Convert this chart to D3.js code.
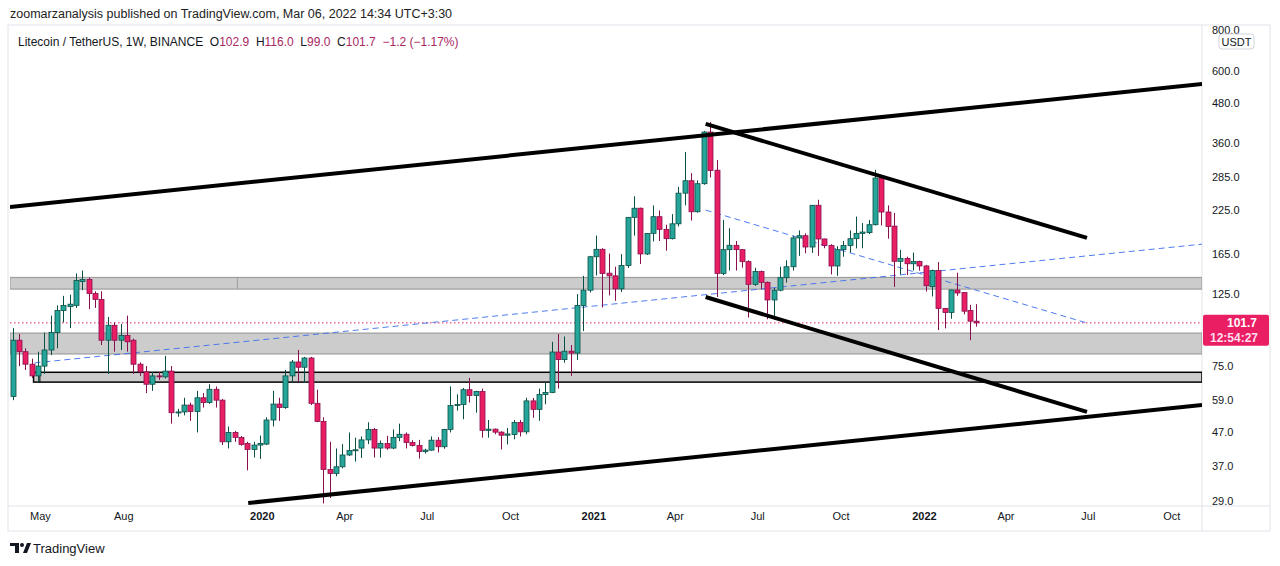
<!DOCTYPE html>
<html><head><meta charset="utf-8">
<script src="https://cdn.jsdelivr.net/npm/d3@7"></script>
<style>body{margin:0;background:#fff;font-family:"Liberation Sans",Roboto,Arial,sans-serif} text{white-space:pre}</style>
</head><body><svg id="c" width="1280" height="566"></svg>
<script>
// ---- data ----
const firstWeek = "2019-04-01";
const opens  = [60.5,90,83,76,70,75,84,95,111,114,115,136,138,125,120,90,100,90,93,90,76,72,66,70,69.5,72.4,54,54.3,57,54.5,60,58,63.7,59,44,47,45.4,43.5,41.7,43,43.3,51.3,57.4,56,70,77.2,74.4,79.4,57.7,50.8,36.2,35.2,36.9,40.1,41.4,42.1,44.6,48,42.1,43.5,42.1,45.4,46.4,43.8,42.9,41.1,41.5,44.5,42.5,48,56.8,57.2,63.5,61,62.7,47.7,48.1,47.1,46.1,46.3,50.4,47.2,58.7,55.3,61.4,62.3,82.8,78.5,83.3,82.2,115,128,162,170.7,144.3,141.6,129.2,152.3,213.8,228,165.2,191,214.8,196.5,184,204.3,253.5,276.7,222.4,271,390,298,144.1,170.3,175.6,170.3,156.5,133.4,146,135.3,119.5,128,139.8,151,185,187.9,173.5,232.8,183.6,175.3,151.8,170.3,175.3,184,191,192,203,282,222,201,156.9,160.2,154.2,156.6,151.8,131.2,147,112.6,109.4,128.2,125.9,111,102.9];
const highs  = [98,94,85,79,83,95,107,115,123,124,144,147,140,127,127,106,102,101,107,91,77,75,72,72,80.6,75,55.5,60,58,63,62,66,65,59.5,49,47.5,45.8,44,44,46,52.3,63,60,73,78.3,84,80,80,63.5,52.3,44,42,43.3,47,45.3,45.7,50.5,48.5,44.4,45.9,48,50,47,44.5,44.6,41.9,45.7,45.5,48.2,65,61.5,64.3,69,63,64,51.3,48.3,47.4,48.5,51.3,51.3,60,59.9,64,67,89,94,92.4,87,124.5,141.6,163,188,172,165.7,151,165,214,248,229,191,232.5,224.4,203,218.7,265,339,292,277.5,393,418,320,210,198,181,171,158,150,147,136,130,151,158,188,195,191,233,242,184,177,174.5,181,195,215,205.6,210,299,284,232.5,220.5,170,162,166.8,157.5,153,148,156,113,128.5,144.7,126,115.5,116];
const lows   = [59,75,73,69,67,71,81,85,102,98,113,128,112,113,87,71,83,84,83,71,70,62,63,68,68.7,50,52.5,53,51,47,56,57.5,56,43,42,44,42.8,36,39.4,39,43,49,51,55.5,67,67,66.6,57,50.5,28.5,29.6,34.5,36.5,39.8,38.3,39.3,43.3,39.4,39.4,41.6,41.8,44.2,42,42.6,39.1,40.5,41.3,40.8,41.9,47,54.8,51.6,58,54,45.3,45.3,46.4,41.7,43.2,44.8,45.7,46.4,52.1,51,57.3,62,64,76.8,70,78.3,96,126,142,113.4,123.4,118.8,126.4,149.7,188,154,164,180.5,181,169,183,200.5,232.6,209,221,269,283,122,142.3,147,147,150,105.6,132,129,104.3,104,127,135,147,163,166,166.4,163,172,143,141.6,162,166.8,171.8,172,190,202,202,184,131,143,142.4,147,146.9,126.8,122.5,96.7,97.8,104.7,123,108,90,99];
const closes = [90,83,76,70,75,84,95,111,115,116,137,138,125,120,90,100,90,93,89,76,72,66,70,69.5,72.4,54,54.3,57,54.5,60,58,63.7,59,44,47,45.4,43.2,41.7,43,43.5,51.3,57.4,56,70,77.2,74.4,79.4,57.7,50.8,36.2,35.2,36.9,40.1,41.4,41.6,44.6,48,42.1,43.5,42.1,45.4,46.4,43.8,42.9,41.1,41.5,44.5,42.5,48,56.8,57.2,63.5,61,62.7,47.7,48.1,47.1,46.1,46.5,50.4,47.2,58.7,55.3,61.4,62.3,82.8,78.5,83.3,82.2,115,128,162,170.7,144,141.6,129.2,152.3,213.8,228,165.2,191,214.8,196.5,184,204.3,253.5,276.7,222.4,271,390,297.4,144,170.3,175.6,170.3,156.5,133.4,146,135.3,119.5,128,139.8,151,185,187.9,173.5,232.8,183.6,175.3,151.8,170.3,175.3,184,191,192.8,203,282,222,200.5,156.9,160.2,154.2,156.6,151.8,132.1,147,112.6,109.4,128.2,125.5,110.4,102.9,101.7];
const priceTicks = [29,37,47,59,75,125,165,225,285,360,480,600,800];
const timeTicks = ["2019-05-01","2019-08-01","2020-01-01","2020-04-01","2020-07-01","2020-10-01","2021-01-01","2021-04-01","2021-07-01","2021-10-01","2022-01-01","2022-04-01","2022-07-01","2022-10-01"];
const timeLabels = ["May","Aug","2020","Apr","Jul","Oct","2021","Apr","Jul","Oct","2022","Apr","Jul","Oct"];
// zones: [low, high]
const zones = [[129,140],[81.7,94.6],[67,71.8]];
// trend lines: [date1, price1, date2, price2]
const solidLines = [["2019-03-29",230,"2022-11-04",547],["2019-12-17",28.6,"2022-11-04",57],["2021-05-05",413,"2022-06-30",185],["2021-05-05",122,"2022-06-30",54.3]];
const dashLines = [["2019-04-25",76.7,"2022-11-04",177],["2021-05-05",225,"2022-06-30",101.6]];
const lastPrice = 101.7;

// ---- layout ----
const svg = d3.select("#c");
const L=10,R=1202,T=27,B=506;
const parse = d3.utcParse("%Y-%m-%d");
const x = d3.scaleUtc().domain([parse("2019-03-29"),parse("2022-11-04")]).range([L,R]);
const y = d3.scaleLog().domain([29,800]).range([501,30]);
const dates = opens.map((_,i)=>d3.utcDay.offset(parse(firstWeek),7*i));

svg.append("defs").append("clipPath").attr("id","clip").append("rect").attr("x",L).attr("y",T).attr("width",R-L).attr("height",B-T);
svg.append("rect").attr("x",8).attr("y",T-2).attr("width",1262).attr("height",531-T+2).attr("fill","none").attr("stroke","#e0e3eb");
svg.append("line").attr("x1",R).attr("x2",R).attr("y1",T-2).attr("y2",531).attr("stroke","#e0e3eb");
svg.append("line").attr("x1",8).attr("x2",1270).attr("y1",B).attr("y2",B).attr("stroke","#e0e3eb");

const g = svg.append("g").attr("clip-path","url(#clip)");
zones.forEach((z,i)=>{
  const x0 = i==2 ? x(parse("2019-04-24")) : L;
  g.append("rect").attr("x",x0).attr("y",y(z[1])).attr("width",R-x0).attr("height",y(z[0])-y(z[1]))
   .attr("fill","#cccccc").attr("stroke", i==2?"#000":"#9e9e9e").attr("stroke-width",i==2?1.5:1.2);
});
g.append("line").attr("x1",x(parse("2019-12-05"))).attr("x2",x(parse("2019-12-05"))).attr("y1",y(140)).attr("y2",y(129)).attr("stroke","#9e9e9e");
g.append("line").attr("x1",x(parse("2019-05-01"))).attr("x2",x(parse("2019-05-01"))).attr("y1",y(71.8)).attr("y2",y(67)).attr("stroke","#000");
g.append("line").attr("x1",L).attr("x2",R).attr("y1",y(lastPrice)).attr("y2",y(lastPrice)).attr("stroke","#e91e63").attr("stroke-dasharray","1.5,2.5").attr("stroke-width",1);
dashLines.forEach(d=>g.append("line").attr("x1",x(parse(d[0]))).attr("y1",y(d[1])).attr("x2",x(parse(d[2]))).attr("y2",y(d[3]))
  .attr("stroke","#3d6ff0").attr("stroke-width",1).attr("stroke-dasharray","6,4").attr("opacity",0.9));
const up="#26a69a", upB="#0a4f45", dn="#e91e63", dnB="#880e4f";
const cg = g.append("g");
dates.forEach((d,i)=>{
  const o=opens[i],h=highs[i],l=lows[i],c=closes[i];
  const isUp = c>=o, cx=Math.round(x(d))+0.5;
  cg.append("line").attr("x1",cx).attr("x2",cx).attr("y1",y(h)).attr("y2",y(l)).attr("stroke",isUp?upB:dnB).attr("stroke-width",1);
  const t=y(Math.max(o,c)), b=y(Math.min(o,c));
  cg.append("rect").attr("x",cx-2.5).attr("y",t).attr("width",5).attr("height",Math.max(1,b-t))
    .attr("fill",isUp?up:dn).attr("stroke",isUp?upB:dnB).attr("stroke-width",0.8);
});
solidLines.forEach(d=>g.append("line").attr("x1",x(parse(d[0]))).attr("y1",y(d[1])).attr("x2",x(parse(d[2]))).attr("y2",y(d[3]))
  .attr("stroke","#000").attr("stroke-width",4).attr("stroke-linecap","butt"));

const ya = svg.append("g").attr("transform",`translate(${R},0)`).call(d3.axisRight(y).tickValues(priceTicks).tickFormat(d3.format(".1f")).tickSize(0).tickPadding(10));
ya.select(".domain").remove();
ya.selectAll("text").attr("font-size",11).attr("fill","#131722").attr("font-family","Liberation Sans,Arial");
const xa = svg.append("g").attr("transform",`translate(0,${B})`).call(d3.axisBottom(x).tickValues(timeTicks.map(parse)).tickFormat((d,i)=>timeLabels[i]).tickSize(0).tickPadding(6));
xa.select(".domain").remove();
xa.selectAll("text").attr("font-size",11).attr("fill","#131722").attr("font-family","Liberation Sans,Arial")
  .attr("font-weight",(d,i)=>/^\d/.test(timeLabels[i])?"bold":"normal");

const py=y(lastPrice);
svg.append("rect").attr("x",R+1).attr("y",py-8).attr("width",66).attr("height",31).attr("rx",2).attr("fill","#e91e63");
svg.append("text").attr("x",R+25).attr("y",py+4).text(lastPrice.toFixed(1)).attr("fill","#fff").attr("font-size",12).attr("font-weight","bold");
svg.append("text").attr("x",R+8).attr("y",py+19).text("12:54:27").attr("fill","#fde").attr("font-size",12).attr("font-weight","bold");
svg.append("rect").attr("x",1219).attr("y",34).attr("width",35).attr("height",15).attr("rx",3).attr("fill","#fff").attr("stroke","#d1d4dc");
svg.append("text").attr("x",1236.5).attr("y",45.5).attr("text-anchor","middle").text("USDT").attr("font-size",11).attr("fill","#131722");

svg.append("text").attr("x",10).attr("y",18).text("zoomarzanalysis published on TradingView.com, Mar 06, 2022 14:34 UTC+3:30").attr("font-size",12.5).attr("fill","#222");
const ht = svg.append("text").attr("x",18).attr("y",46).attr("font-size",12).attr("fill","#131722");
ht.append("tspan").text("Litecoin / TetherUS, 1W, BINANCE  O");
const mc="#a8285f";
ht.append("tspan").attr("fill",mc).text("102.9");
ht.append("tspan").text("  H"); ht.append("tspan").attr("fill",mc).text("116.0");
ht.append("tspan").text("  L"); ht.append("tspan").attr("fill",mc).text("99.0");
ht.append("tspan").text("  C"); ht.append("tspan").attr("fill",mc).text("101.7  −1.2 (−1.17%)");
const lg = svg.append("g").attr("transform","translate(10,543)");
lg.append("path").attr("d","M0,0H9V10H5V3H0Z").attr("fill","#131722");
lg.append("circle").attr("cx",12).attr("cy",2).attr("r",2).attr("fill","#131722");
lg.append("path").attr("d","M13,10L17,0H21L17,10Z").attr("fill","#131722");
svg.append("text").attr("x",33).attr("y",553).text("TradingView").attr("font-size",13).attr("fill","#131722");
</script></body></html>
